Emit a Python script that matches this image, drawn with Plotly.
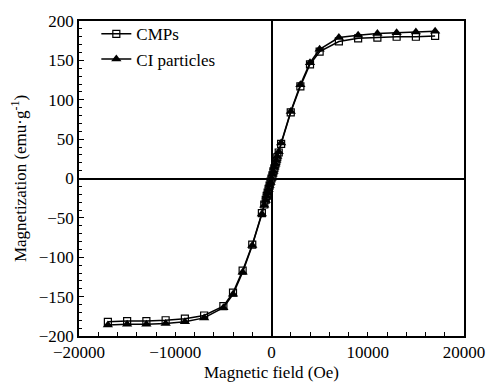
import plotly.graph_objects as go

field = [-17000, -15000, -13000, -11000, -9000, -7000, -5000, -4000, -3000, -2000, -1000,
         -750, -600, -500, -400, -300, -200, -100, 0, 100, 200, 300, 400, 500, 600, 750,
         1000, 2000, 3000, 4000, 5000, 7000, 9000, 11000, 13000, 15000, 17000]
cmps = [-182, -181, -181, -180, -178, -174, -162, -145, -117, -84, -44,
        -33, -27, -22, -18, -13, -9, -4, 0, 4, 9, 13, 18, 22, 27, 33,
        44, 84, 117, 145, 161, 174, 178, 179, 180, 180, 181]
ci = [-186, -185, -185, -184, -182, -177, -164, -147, -119, -85, -45,
      -34, -28, -23, -18, -14, -9, -5, 0, 5, 9, 14, 18, 23, 28, 34,
      45, 85, 119, 147, 164, 179, 182, 184, 185, 186, 187]

font = "Liberation Serif, Times New Roman, serif"
fig = go.Figure()
fig.add_trace(go.Scatter(x=field, y=cmps, mode="lines+markers", name="CMPs",
                         line=dict(color="black", width=1.5),
                         marker=dict(symbol="square-open", size=7, color="black",
                                     line=dict(width=1.2, color="black"))))
fig.add_trace(go.Scatter(x=field, y=ci, mode="lines+markers", name="CI particles",
                         line=dict(color="black", width=1.5),
                         marker=dict(symbol="triangle-up", size=9, color="black")))

fig.update_layout(
    width=489, height=382,
    margin=dict(l=79, r=25, t=21, b=46),
    paper_bgcolor="white", plot_bgcolor="white",
    font=dict(family=font, size=17, color="black"),
    showlegend=True,
    legend=dict(x=0.045, y=1.015, xanchor="left", yanchor="top",
                bgcolor="rgba(0,0,0,0)", font=dict(family=font, size=17),
                tracegroupgap=0, itemwidth=30),
)
fig.update_xaxes(range=[-20000, 20000], tickvals=[-20000, -10000, 0, 10000, 20000],
                 ticktext=["\u221220000", "\u221210000", "0", "10000", "20000"],
                 tickfont=dict(family=font, size=17),
                 ticks="inside", ticklen=4, tickcolor="black",
                 minor=dict(dtick=2000, ticks="inside", ticklen=4, tickcolor="black"),
                 showline=True, linecolor="black", linewidth=1.5, mirror=True,
                 showgrid=False, zeroline=True, zerolinecolor="black", zerolinewidth=1.5,
                 automargin=False,
                 title=dict(text="Magnetic field (Oe)", standoff=10, font=dict(family=font, size=17)))
fig.update_yaxes(range=[-200, 200], tickvals=[-200, -150, -100, -50, 0, 50, 100, 150, 200],
                 ticktext=["\u2212200", "\u2212150", "\u2212100", "\u221250", "0", "50", "100", "150", "200"],
                 tickfont=dict(family=font, size=17),
                 ticks="inside", ticklen=5, tickcolor="black",
                 minor=dict(dtick=10, ticks="inside", ticklen=3, tickcolor="black"),
                 showline=True, linecolor="black", linewidth=1.5, mirror=True,
                 showgrid=False, zeroline=True, zerolinecolor="black", zerolinewidth=1.5,
                 automargin=False,
                 title=dict(text="Magnetization (emu\u00b7g<sup>-1</sup>)", standoff=8,
                            font=dict(family=font, size=17)))

fig.write_html("out.html")
